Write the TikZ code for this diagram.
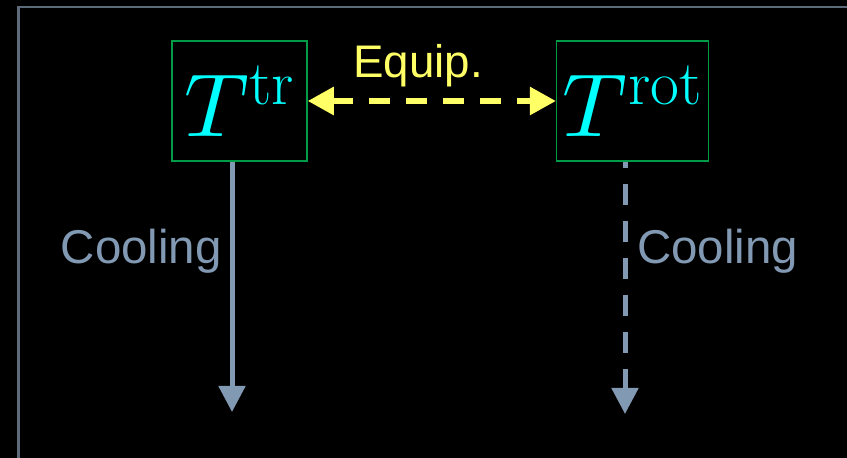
\documentclass[tikz,border=0pt]{standalone}
\usepackage{fontspec}
\setmainfont{Liberation Sans}
\usepackage{unicode-math}
\setmathfont{Latin Modern Math}
\setmathrm{Latin Modern Roman}
\usetikzlibrary{arrows.meta}
\definecolor{boxgreen}{RGB}{0,155,70}
\definecolor{tcyan}{RGB}{0,255,255}
\definecolor{eqyellow}{RGB}{255,255,102}
\definecolor{coolgray}{RGB}{130,153,179}
\definecolor{framegray}{RGB}{92,107,122}
\tikzset{
  tbox/.style={draw=boxgreen, line width=0.85pt, text=tcyan, minimum height=2.4cm,
    inner xsep=0.12cm, inner ysep=0pt, font=\fontsize{51}{61}\selectfont},
  equip/.style={eqyellow, line width=0.115cm, dash pattern=on 0.42cm off 0.32cm,
    {Triangle[length=0.52cm, width=0.54cm]}-{Triangle[length=0.52cm, width=0.54cm]}},
  cool/.style={coolgray, line width=0.1cm, -{Triangle[length=0.52cm, width=0.52cm]}},
  lbl/.style={font=\fontsize{27}{32}\selectfont, inner sep=0pt},
}
\begin{document}
\begin{tikzpicture}
  \useasboundingbox[fill=black] (0, 0) rectangle (16.94, -9.16);
  \draw[framegray, line width=1.5pt] (0.37, -0.14) rectangle (17.5, -9.6);

  \node[tbox, minimum width=2.7cm] (tr) at (4.79, -2.02) {$T^{\mathrm{tr}}$};
  \node[tbox, minimum width=2.98cm] (rot) at (12.65, -2.02) {$T^{\mathrm{rot}}$};

  % equilibration between the two temperatures
  \draw[equip] (tr.east) -- (rot.west);
  \node[lbl, eqyellow, anchor=base, font=\fontsize{26}{31}\selectfont] (eq) at (8.36, -1.56) {Equip.};

  % cooling of each mode
  \coordinate (trend) at (4.64, -8.24);
  \coordinate (rotend) at (12.5, -8.28);
  \draw[cool] (tr.south -| trend) -- (trend);
  \draw[cool, dash pattern=on 0.42cm off 0.32cm, dash phase=0.3cm] (rot.south -| rotend) -- (rotend);
  \node[lbl, coolgray, anchor=base east] (cltr) at (4.44, -5.28) {Cooling};
  \node[lbl, coolgray, anchor=base west] (clrot) at (12.74, -5.28) {Cooling};
\end{tikzpicture}
\end{document}
